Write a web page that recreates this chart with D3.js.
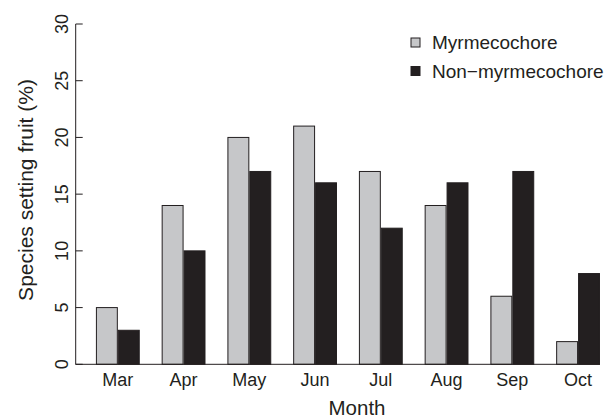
<!DOCTYPE html>
<html><head><meta charset="utf-8">
<script src="https://cdn.jsdelivr.net/npm/d3@7"></script>
<style>body{margin:0;background:#fff}svg{display:block}text{font-family:"Liberation Sans",Arial,sans-serif;fill:#231f20}</style>
</head><body>
<script>
const months = ["Mar","Apr","May","Jun","Jul","Aug","Sep","Oct"];
const seriesNames = ["Myrmecochore","Non\u2212myrmecochore"];
const myrmecochore = [5,14,20,21,17,14,6,2];
const nonMyrmecochore = [3,10,17,16,12,16,17,8];
const yTicks = [0,5,10,15,20,25,30];
const colors = ["#c6c7c9","#231f20"];

const W=614,H=418;
const svg=d3.select("body").append("svg").attr("width",W).attr("height",H);
const y=d3.scaleLinear().domain([0,30]).range([364.3,24]);
const x=d3.scaleBand().domain(months).range([74,621.9]).paddingInner(1/3).paddingOuter(1/3).align(0.5);
const x1=d3.scaleBand().domain(seriesNames).range([0,x.bandwidth()]);
const data=[myrmecochore,nonMyrmecochore];

const g=svg.append("g");
months.forEach((m,i)=>{
  seriesNames.forEach((s,j)=>{
    const v=data[j][i];
    g.append("rect").attr("x",x(m)+x1(s)+0.5).attr("y",y(v))
      .attr("width",x1.bandwidth()-1).attr("height",y(0)-y(v))
      .attr("fill",colors[j]).attr("stroke","#231f20").attr("stroke-width",1);
  });
});
// baseline
svg.append("line").attr("x1",75.5).attr("x2",x(months[7])+x.bandwidth()).attr("y1",y(0)).attr("y2",y(0))
  .attr("stroke","#231f20").attr("stroke-width",1);
// y axis
const ya=svg.append("g").attr("transform","translate(75.7,0)");
ya.append("line").attr("x1",0).attr("x2",0).attr("y1",y(0)).attr("y2",y(30)).attr("stroke","#231f20");
yTicks.forEach(t=>{
  ya.append("line").attr("x1",0).attr("x2",7).attr("y1",y(t)).attr("y2",y(t)).attr("stroke","#231f20");
  ya.append("text").attr("transform",`translate(-7.5,${y(t)}) rotate(-90)`).attr("text-anchor","middle")
    .attr("font-size",18).text(t);
});
svg.append("text").attr("transform",`translate(33,190) rotate(-90)`).attr("text-anchor","middle")
  .attr("font-size",21).text("Species setting fruit (%)");
// x labels
months.forEach(m=>{
  svg.append("text").attr("x",x(m)+x.bandwidth()/2).attr("y",386).attr("text-anchor","middle").attr("font-size",18).text(m);
});
svg.append("text").attr("x",357).attr("y",415).attr("text-anchor","middle").attr("font-size",20.5).text("Month");
// legend
seriesNames.forEach((s,j)=>{
  const ly=42.5+j*28.5;
  svg.append("rect").attr("x",411).attr("y",ly-4.5).attr("width",9).attr("height",9)
    .attr("fill",colors[j]).attr("stroke","#231f20");
  svg.append("text").attr("x",432).attr("y",ly+6.8).attr("font-size",19).text(s);
});
</script>
</body></html>
